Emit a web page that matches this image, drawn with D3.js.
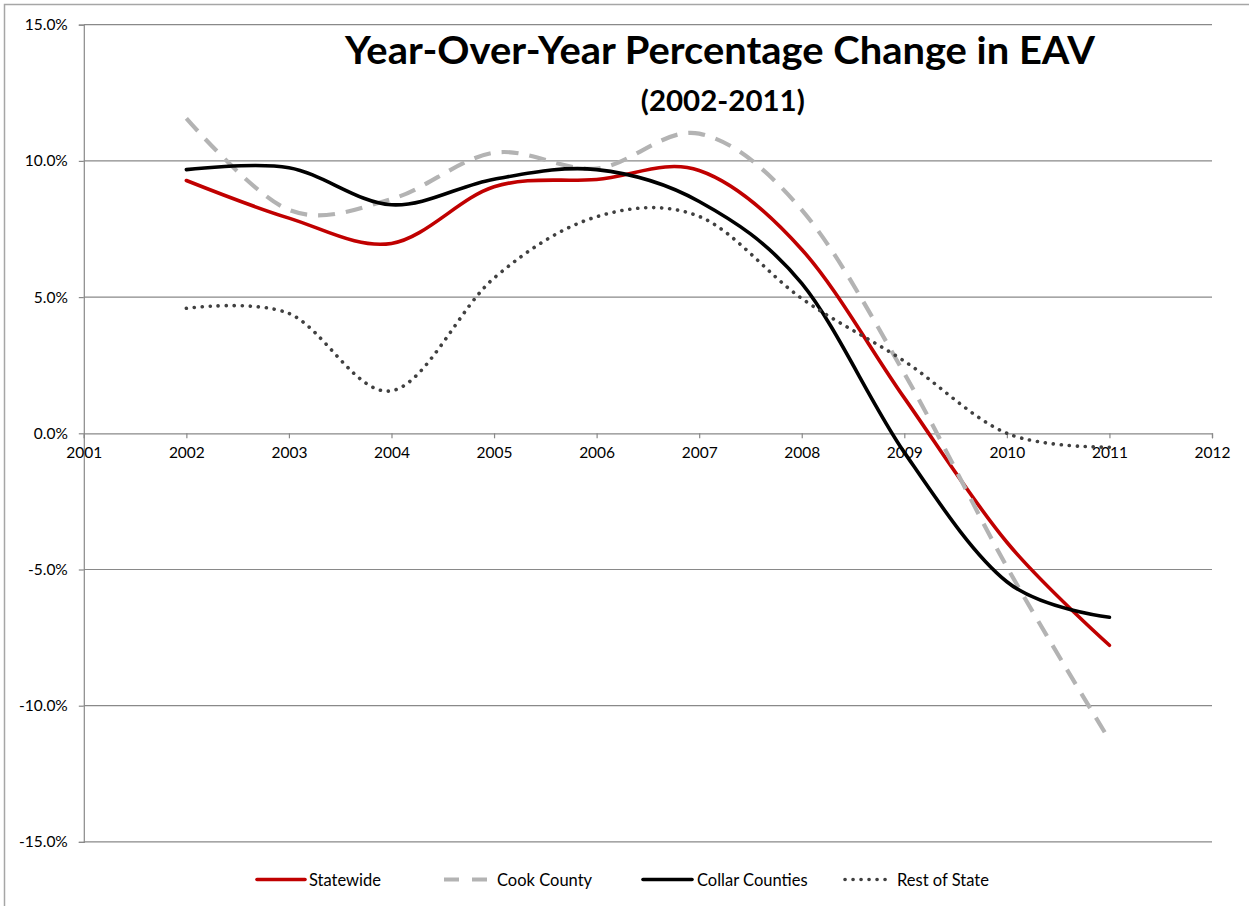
<!DOCTYPE html>
<html>
<head>
<meta charset="utf-8">
<script src="https://cdn.jsdelivr.net/npm/d3@7/dist/d3.min.js"></script>
<style>
  html, body { margin: 0; padding: 0; background: #fff; }
  svg { display: block; }
  text { font-family: Lato, "Open Sans", sans-serif; fill: #000; }
</style>
</head>
<body>
<svg id="chart" width="1249" height="906"></svg>
<script>
const years = [2002, 2003, 2004, 2005, 2006, 2007, 2008, 2009, 2010, 2011];
const statewide = [9.28, 7.9, 6.97, 9.05, 9.32, 9.65, 6.75, 1.3, -4.0, -7.78];
const cookCounty = [11.56, 8.2, 8.6, 10.3, 9.72, 11.0, 8.2, 2.2, -4.9, -11.26];
const collarCounties = [9.68, 9.75, 8.39, 9.33, 9.68, 8.51, 5.5, -0.7, -5.45, -6.75];
const restOfState = [4.59, 4.4, 1.56, 5.7, 7.95, 7.96, 4.95, 2.65, 0.0, -0.51];
const seriesNames = ["Statewide", "Cook County", "Collar Counties", "Rest of State"];
const xTicks = [2001, 2002, 2003, 2004, 2005, 2006, 2007, 2008, 2009, 2010, 2011, 2012];
const yTicks = [-15, -10, -5, 0, 5, 10, 15];
const titleText = "Year-Over-Year Percentage Change in EAV";
const subtitleText = "(2002-2011)";

const svg = d3.select("#chart");
const W = 1249, H = 906;

// outer border (chart area frame, cropped at right/bottom)
svg.append("rect").attr("x", 4.5).attr("y", 4.5).attr("width", W + 20).attr("height", H + 20)
  .attr("fill", "#fff").attr("stroke", "#a6a6a6").attr("stroke-width", 1.5);

const x = d3.scaleLinear().domain([2001, 2012]).range([83.8, 1212]);
const y = d3.scaleLinear().domain([-15, 15]).range([841.9, 24.7]);

const gridColor = "#898989";

// horizontal gridlines
svg.append("g").selectAll("line").data(yTicks.filter(d => d !== 0)).join("line")
  .attr("x1", x(2001)).attr("x2", x(2012))
  .attr("y1", d => y(d)).attr("y2", d => y(d))
  .attr("stroke", gridColor).attr("stroke-width", 1.2);

// y axis
const yAxis = d3.axisLeft(y).tickValues(yTicks).tickSize(5).tickPadding(11)
  .tickFormat(d => d3.format(".1f")(d) + "%");
const gy = svg.append("g").attr("transform", `translate(${x(2001)},0)`).call(yAxis);
gy.select(".domain").attr("stroke", gridColor).attr("stroke-width", 1.2);
gy.selectAll(".tick line").attr("stroke", gridColor).attr("stroke-width", 1.2);
gy.selectAll(".tick text").attr("font-size", 15.5).attr("font-family", "Lato, sans-serif")
  .text(d => (d < 0 ? "-" : "") + d3.format(".1f")(Math.abs(d)) + "%");

// x axis at 0
const xAxis = d3.axisBottom(x).tickValues(xTicks).tickSize(5).tickPadding(9)
  .tickFormat(d3.format("d"));
const gx = svg.append("g").attr("transform", `translate(0,${y(0)})`).call(xAxis);
gx.select(".domain").attr("stroke", gridColor).attr("stroke-width", 1.2);
gx.selectAll(".tick line").attr("stroke", gridColor).attr("stroke-width", 1.2);
gx.selectAll(".tick text").attr("font-size", 15.5).attr("font-family", "Lato, sans-serif");

// series
const styles = [
  { name: seriesNames[0], values: statewide, color: "#c00000", width: 3.6, dash: null, cap: "round" },
  { name: seriesNames[1], values: cookCounty, color: "#b3b3b3", width: 4.2, dash: "17,11", cap: "butt" },
  { name: seriesNames[2], values: collarCounties, color: "#000000", width: 3.6, dash: null, cap: "round" },
  { name: seriesNames[3], values: restOfState, color: "#404040", width: 3.6, dash: "0.1,7.9", cap: "round" }
];

const line = d3.line()
  .x(d => x(d[0])).y(d => y(d[1]))
  .curve(d3.curveCardinal.tension(0));

const gl = svg.append("g");
styles.forEach(s => {
  gl.append("path")
    .datum(years.map((yr, i) => [yr, s.values[i]]))
    .attr("d", line)
    .attr("fill", "none")
    .attr("stroke", s.color)
    .attr("stroke-width", s.width)
    .attr("stroke-linecap", s.cap)
    .attr("stroke-linejoin", "round")
    .attr("stroke-dasharray", s.dash);
});

// title
svg.append("text").attr("x", 720).attr("y", 64.3).attr("text-anchor", "middle")
  .attr("font-size", 38.5).attr("font-weight", "bold")
  .attr("textLength", 750).attr("lengthAdjust", "spacingAndGlyphs")
  .text(titleText);
svg.append("text").attr("x", 722.8).attr("y", 111).attr("text-anchor", "middle")
  .attr("font-size", 29).attr("font-weight", "bold")
  .attr("textLength", 164).attr("lengthAdjust", "spacingAndGlyphs")
  .text(subtitleText);

// legend
const legendY = 879.5;
const legend = [
  { s: styles[0], x1: 257, x2: 305, tx: 309 },
  { s: styles[1], x1: 444, x2: 487, tx: 497 },
  { s: styles[2], x1: 643, x2: 692, tx: 697 },
  { s: styles[3], x1: 845, x2: 886, tx: 897 }
];
const lg = svg.append("g");
legend.forEach(l => {
  const ln = lg.append("line")
    .attr("x1", l.x1).attr("x2", l.x2).attr("y1", legendY).attr("y2", legendY)
    .attr("stroke", l.s.color).attr("stroke-width", l.s.width)
    .attr("stroke-linecap", l.s.cap);
  if (l.s.cap === "butt" && l.s.dash) ln.attr("stroke-dasharray", "15,13");
  else if (l.s.dash) ln.attr("stroke-dasharray", "0.1,7.9");
  lg.append("text").attr("x", l.tx).attr("y", legendY + 6).attr("font-size", 16.5)
    .text(l.s.name);
});
</script>
</body>
</html>
